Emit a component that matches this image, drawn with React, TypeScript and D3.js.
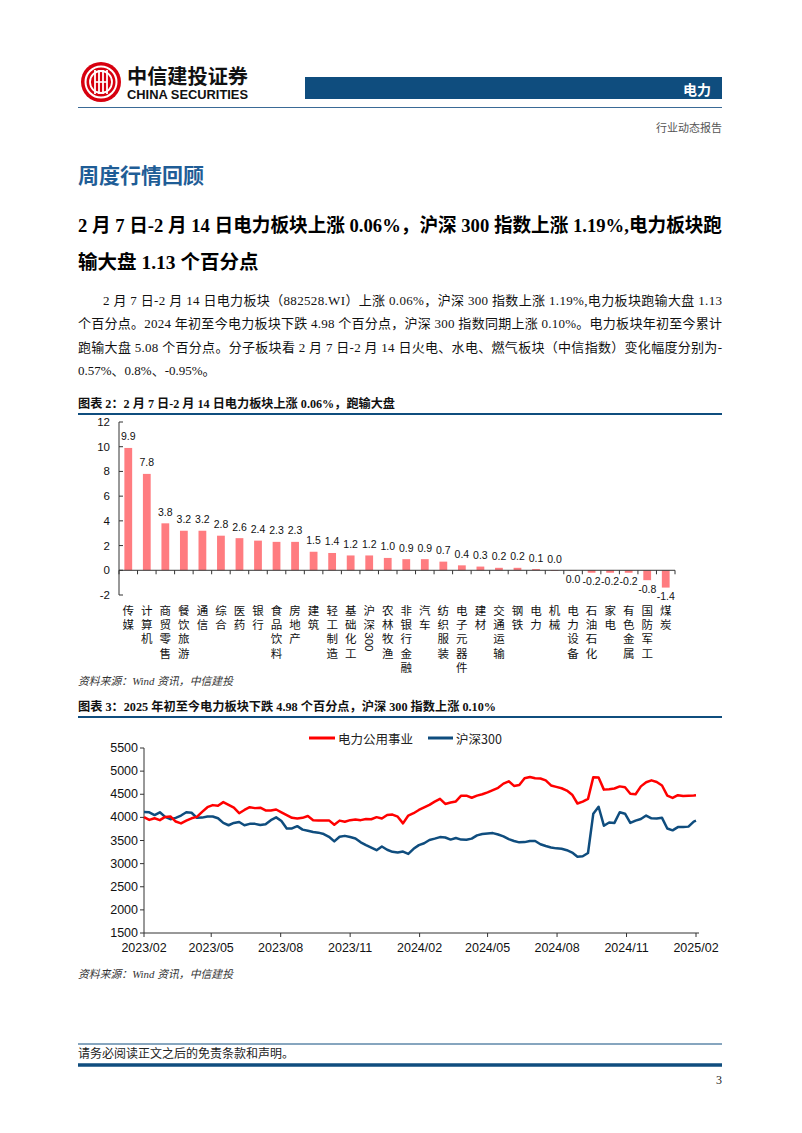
import React from 'react';
import * as d3 from 'd3';

// ---------- Bar chart data (图表2) ----------
const BAR_CATEGORIES = ['传媒','计算机','商贸零售','餐饮旅游','通信','综合','医药','银行','食品饮料','房地产','建筑','轻工制造','基础化工','沪深300','农林牧渔','非银行金融','汽车','纺织服装','电子元器件','建材','交通运输','钢铁','电力','机械','电力设备','石油石化','家电','有色金属','国防军工','煤炭'];
const BAR_VALUES = [9.9,7.8,3.8,3.2,3.2,2.8,2.6,2.4,2.3,2.3,1.5,1.4,1.2,1.2,1.0,0.9,0.9,0.7,0.4,0.3,0.2,0.2,0.1,0.02,-0.02,-0.2,-0.2,-0.2,-0.8,-1.4];
const BAR_Y_TICKS = [-2,0,2,4,6,8,10,12];

// ---------- Line chart data (图表3) ----------
const LINE_DATES = [
'2023-02-14','2023-02-21','2023-02-28','2023-03-07','2023-03-14','2023-03-21','2023-03-28','2023-04-04','2023-04-11','2023-04-18',
'2023-04-25','2023-05-02','2023-05-09','2023-05-16','2023-05-23','2023-05-30','2023-06-06','2023-06-13','2023-06-20','2023-06-27',
'2023-07-04','2023-07-11','2023-07-18','2023-07-25','2023-08-01','2023-08-08','2023-08-15','2023-08-22','2023-08-29','2023-09-05',
'2023-09-12','2023-09-19','2023-09-26','2023-10-03','2023-10-10','2023-10-17','2023-10-24','2023-10-31','2023-11-07','2023-11-14',
'2023-11-21','2023-11-28','2023-12-05','2023-12-12','2023-12-19','2023-12-26','2024-01-02','2024-01-09','2024-01-16','2024-01-23',
'2024-01-30','2024-02-06','2024-02-13','2024-02-20','2024-02-27','2024-03-05','2024-03-12','2024-03-19','2024-03-26','2024-04-02',
'2024-04-09','2024-04-16','2024-04-23','2024-04-30','2024-05-07','2024-05-14','2024-05-21','2024-05-28','2024-06-04','2024-06-11',
'2024-06-18','2024-06-25','2024-07-02','2024-07-09','2024-07-16','2024-07-23','2024-07-30','2024-08-06','2024-08-13','2024-08-20',
'2024-08-27','2024-09-03','2024-09-10','2024-09-17','2024-09-24','2024-10-01','2024-10-08','2024-10-15','2024-10-22','2024-10-29',
'2024-11-05','2024-11-12','2024-11-19','2024-11-26','2024-12-03','2024-12-10','2024-12-17','2024-12-24','2024-12-31','2025-01-07',
'2025-01-14','2025-01-21','2025-01-28','2025-02-04','2025-02-11','2025-02-14'];
const POWER_UTIL = [
4007,3945,3980,3940,4010,4020,3910,3870,3930,3980,
4010,4120,4220,4265,4250,4330,4270,4210,4090,4160,
4220,4200,4210,4150,4150,4170,4110,4050,3990,3975,
3990,4030,3940,3935,3935,3935,3840,3930,3905,3940,
3955,3940,3965,3960,4005,3975,4050,4060,4015,3870,
4040,4090,4160,4215,4270,4340,4400,4290,4320,4345,
4470,4470,4425,4470,4500,4540,4590,4640,4730,4780,
4680,4700,4845,4874,4845,4840,4800,4690,4660,4630,
4580,4490,4300,4340,4400,4870,4860,4600,4610,4625,
4670,4650,4510,4500,4670,4760,4800,4765,4690,4470,
4420,4480,4460,4470,4475,4480];
const CSI300 = [
4115,4110,4050,4110,4010,3960,3990,4040,4110,4100,
3990,3995,4020,4020,3980,3880,3830,3880,3900,3830,
3860,3860,3835,3850,3940,4000,3920,3760,3760,3810,
3735,3710,3685,3670,3640,3580,3480,3580,3600,3575,
3545,3460,3400,3345,3290,3370,3300,3255,3240,3260,
3210,3320,3400,3440,3510,3540,3574,3565,3520,3555,
3520,3515,3540,3610,3640,3650,3660,3630,3590,3530,
3490,3460,3465,3490,3490,3420,3380,3350,3330,3320,
3290,3240,3150,3160,3230,4080,4230,3820,3890,3880,
4110,4080,3880,3930,3965,4040,3980,3975,3990,3760,
3720,3790,3790,3800,3910,3930];
const LINE_Y_TICKS = [1500,2000,2500,3000,3500,4000,4500,5000,5500];
const LINE_X_TICKS = ['2023-02-14','2023-05-14','2023-08-14','2023-11-14','2024-02-14','2024-05-14','2024-08-14','2024-11-14','2025-02-14'];
const LINE_X_LABELS = ['2023/02','2023/05','2023/08','2023/11','2024/02','2024/05','2024/08','2024/11','2025/02'];
const SERIES_NAMES = ['电力公用事业','沪深300'];

const SERIF = "'Times New Roman','Liberation Serif','Noto Sans CJK SC',serif";
const SANS = "'Liberation Sans',Arial,'Noto Sans CJK SC',sans-serif";
const CJK = "'Noto Sans CJK SC','Liberation Sans',sans-serif";
const NAVY = '#0f4d7e';

function VerticalLabel({ text, x, y0, step, fs }: { text: string; x: number; y0: number; step: number; fs: number }) {
  const out: React.ReactNode[] = [];
  let y = y0;
  let i = 0;
  let key = 0;
  while (i < text.length) {
    const ch = text[i];
    if (/[0-9A-Za-z]/.test(ch)) {
      let run = '';
      while (i < text.length && /[0-9A-Za-z]/.test(text[i])) { run += text[i]; i++; }
      const w = run.length * fs * 0.556;
      const top = y - step / 2 + 1;
      out.push(
        <text key={key++} transform={`translate(${x - fs * 0.36},${top}) rotate(90)`} fontSize={fs} fontFamily={SANS} fill="#111">{run}</text>
      );
      y = top + w + step / 2 + 1;
    } else {
      out.push(<text key={key++} x={x} y={y} textAnchor="middle" dominantBaseline="central" fontSize={fs} fontFamily={CJK} fill="#111">{ch}</text>);
      y += step;
      i++;
    }
  }
  return <g>{out}</g>;
}

function BarChart() {
  const x = d3.scaleBand<string>().domain(BAR_CATEGORIES).range([119, 675]).paddingInner(0.58).paddingOuter(0.29);
  const y = d3.scaleLinear().domain([-2, 12]).range([595, 422]);
  const y0 = y(0);
  const step = x.step();
  const fmt = (v: number) => (Math.abs(v) < 0.05 ? '0.0' : v.toFixed(1));
  return (
    <g>
      <line x1={119} x2={119} y1={y(-2)} y2={y(12)} stroke="#333" strokeWidth={1} />
      {BAR_Y_TICKS.map(t => (
        <g key={t}>
          <line x1={119} x2={123} y1={y(t)} y2={y(t)} stroke="#333" />
          <text x={110} y={y(t)} textAnchor="end" dominantBaseline="central" fontSize={11.5} fontFamily={SANS} fill="#111">{t}</text>
        </g>
      ))}
      {BAR_CATEGORIES.map((c, i) => {
        const v = BAR_VALUES[i];
        const top = Math.min(y(v), y0);
        const h = Math.abs(y(v) - y0);
        const cx = (x(c) as number) + x.bandwidth() / 2;
        return (
          <g key={c}>
            <rect x={x(c)} y={top} width={x.bandwidth()} height={Math.max(h, 0.6)} fill="#ff7c80" />
            <text x={cx} y={v >= 0 ? y(v) - 7.5 : y(v) + 12.5} textAnchor="middle" fontSize={10.5} fontFamily={SANS} fill="#111">{fmt(v)}</text>
            <VerticalLabel text={c} x={cx} y0={610} step={14.2} fs={11.5} />
          </g>
        );
      })}
      <line x1={119} x2={675} y1={y0} y2={y0} stroke="#333" />
      {d3.range(BAR_CATEGORIES.length + 1).map(i => (
        <line key={i} x1={119 + i * step} x2={119 + i * step} y1={y0} y2={y0 + 4} stroke="#333" />
      ))}
    </g>
  );
}

function LineChart() {
  const parse = d3.timeParse('%Y-%m-%d');
  const dates = LINE_DATES.map(d => parse(d) as Date);
  const x = d3.scaleTime().domain([parse('2023-02-14') as Date, parse('2025-02-14') as Date]).range([144, 696]);
  const y = d3.scaleLinear().domain([1500, 5500]).range([933, 748]);
  const line = d3.line<number>().x((_, i) => x(dates[i])).y(v => y(v)).curve(d3.curveLinear);
  return (
    <g>
      <line x1={309} x2={335} y1={738} y2={738} stroke="#ff0000" strokeWidth={3} />
      <text x={338} y={738} dominantBaseline="central" fontSize={12.5} fontFamily={CJK} fill="#222">{SERIES_NAMES[0]}</text>
      <line x1={428} x2={453} y1={738} y2={738} stroke={NAVY} strokeWidth={3} />
      <text x={456} y={738} dominantBaseline="central" fontSize={12.5} fontFamily={CJK} fill="#222">{SERIES_NAMES[1]}</text>
      <line x1={144} x2={144} y1={933} y2={748} stroke="#333" />
      {LINE_Y_TICKS.map(t => (
        <g key={t}>
          <line x1={140} x2={144} y1={y(t)} y2={y(t)} stroke="#333" />
          <text x={138} y={y(t)} textAnchor="end" dominantBaseline="central" fontSize={12.5} fontFamily={SANS} fill="#111">{t}</text>
        </g>
      ))}
      <line x1={144} x2={699} y1={933} y2={933} stroke="#333" />
      {LINE_X_TICKS.map((t, i) => {
        const px = x(parse(t) as Date);
        return (
          <g key={t}>
            <line x1={px} x2={px} y1={933} y2={937} stroke="#333" />
            <text x={px} y={952} textAnchor="middle" fontSize={12.5} fontFamily={SANS} fill="#111">{LINE_X_LABELS[i]}</text>
          </g>
        );
      })}
      <path d={line(CSI300) || ''} fill="none" stroke={NAVY} strokeWidth={2.5} strokeLinejoin="round" />
      <path d={line(POWER_UTIL) || ''} fill="none" stroke="#ff0000" strokeWidth={2.5} strokeLinejoin="round" />
    </g>
  );
}

function Logo() {
  const cx = 101, cy = 82;
  return (
    <g>
      <circle cx={cx} cy={cy} r={20} fill="#d7000f" />
      <circle cx={cx} cy={cy} r={15.5} fill="none" stroke="#fff" strokeWidth={2} />
      <circle cx={cx} cy={cy} r={11} fill="none" stroke="#fff" strokeWidth={1.8} />
      {[-6, -2, 2, 6].map(d => (
        <line key={d} x1={cx + d} x2={cx + d} y1={cy - 12} y2={cy + 12} stroke="#fff" strokeWidth={1.8} />
      ))}
      <line x1={cx - 6} x2={cx + 6} y1={cy} y2={cy} stroke="#fff" strokeWidth={1.6} />
    </g>
  );
}

export default function App() {
  return (
    <svg width={802} height={1133} viewBox="0 0 802 1133" style={{ position: 'absolute', left: 0, top: 0, background: '#fff' }}>
      <rect width={802} height={1133} fill="#fff" />
      <Logo />
      <text x={127} y={84} fontSize={20} fontWeight={700} fontFamily={CJK} fill="#111" textLength={121} lengthAdjust="spacingAndGlyphs">中信建投证券</text>
      <text x={127} y={99} fontSize={12.5} fontWeight={700} fontFamily={SANS} fill="#111" textLength={121} lengthAdjust="spacingAndGlyphs">CHINA SECURITIES</text>
      <rect x={305} y={77} width={417} height={22} fill={NAVY} />
      <text x={711} y={88.5} textAnchor="end" dominantBaseline="central" fontSize={14} fontWeight={700} fontFamily={CJK} fill="#fff">电力</text>
      <line x1={78} x2={722} y1={107.5} y2={107.5} stroke="#3a6a96" strokeWidth={1.2} />
      <text x={722} y={127} textAnchor="end" dominantBaseline="central" fontSize={11} fontFamily={CJK} fill="#555">行业动态报告</text>

      <text x={78} y={174} dominantBaseline="central" fontSize={21} fontWeight={600} fontFamily={CJK} fill="#1f5d96">周度行情回顾</text>
      <text x={78} y={225} dominantBaseline="central" fontSize={19.5} fontWeight={700} fontFamily={SERIF} fill="#000" textLength={644} lengthAdjust="spacingAndGlyphs">2 月 7 日-2 月 14 日电力板块上涨 0.06%，沪深 300 指数上涨 1.19%,电力板块跑</text>
      <text x={78} y={262} dominantBaseline="central" fontSize={19.5} fontWeight={700} fontFamily={SERIF} fill="#000">输大盘 1.13 个百分点</text>

      <g fontSize={13} fontFamily={SERIF} fill="#111">
        <text x={103} y={300} dominantBaseline="central" textLength={619} lengthAdjust="spacing">2 月 7 日-2 月 14 日电力板块（882528.WI）上涨 0.06%，沪深 300 指数上涨 1.19%,电力板块跑输大盘 1.13</text>
        <text x={78} y={323} dominantBaseline="central" textLength={644} lengthAdjust="spacing">个百分点。2024 年初至今电力板块下跌 4.98 个百分点，沪深 300 指数同期上涨 0.10%。电力板块年初至今累计</text>
        <text x={78} y={347} dominantBaseline="central" textLength={644} lengthAdjust="spacing">跑输大盘 5.08 个百分点。分子板块看 2 月 7 日-2 月 14 日火电、水电、燃气板块（中信指数）变化幅度分别为-</text>
        <text x={78} y={370} dominantBaseline="central">0.57%、0.8%、-0.95%。</text>
      </g>

      <text x={78} y={404} dominantBaseline="central" fontSize={12} fontWeight={700} fontFamily={SERIF} fill="#111" textLength={317} lengthAdjust="spacingAndGlyphs">图表 2：2 月 7 日-2 月 14 日电力板块上涨 0.06%，跑输大盘</text>
      <line x1={78} x2={722} y1={414} y2={414} stroke={NAVY} strokeWidth={2} />
      <BarChart />
      <text x={78} y={681} dominantBaseline="central" fontSize={11} fontStyle="italic" fontFamily={SERIF} fill="#333" textLength={155} lengthAdjust="spacingAndGlyphs">资料来源：Wind 资讯，中信建投</text>

      <text x={78} y={707} dominantBaseline="central" fontSize={12} fontWeight={700} fontFamily={SERIF} fill="#111" textLength={418} lengthAdjust="spacingAndGlyphs">图表 3：2025 年初至今电力板块下跌 4.98 个百分点，沪深 300 指数上涨 0.10%</text>
      <line x1={78} x2={722} y1={717} y2={717} stroke={NAVY} strokeWidth={2} />
      <LineChart />
      <text x={78} y={974} dominantBaseline="central" fontSize={11} fontStyle="italic" fontFamily={SERIF} fill="#333" textLength={155} lengthAdjust="spacingAndGlyphs">资料来源：Wind 资讯，中信建投</text>

      <line x1={78} x2={722} y1={1044} y2={1044} stroke={NAVY} strokeWidth={1} />
      <text x={78} y={1054} dominantBaseline="central" fontSize={12} fontFamily={SERIF} fill="#222">请务必阅读正文之后的免责条款和声明。</text>
      <line x1={78} x2={722} y1={1065} y2={1065} stroke={NAVY} strokeWidth={3.5} />
      <text x={722} y={1080} textAnchor="end" dominantBaseline="central" fontSize={12} fontFamily={SERIF} fill="#222">3</text>
    </svg>
  );
}
